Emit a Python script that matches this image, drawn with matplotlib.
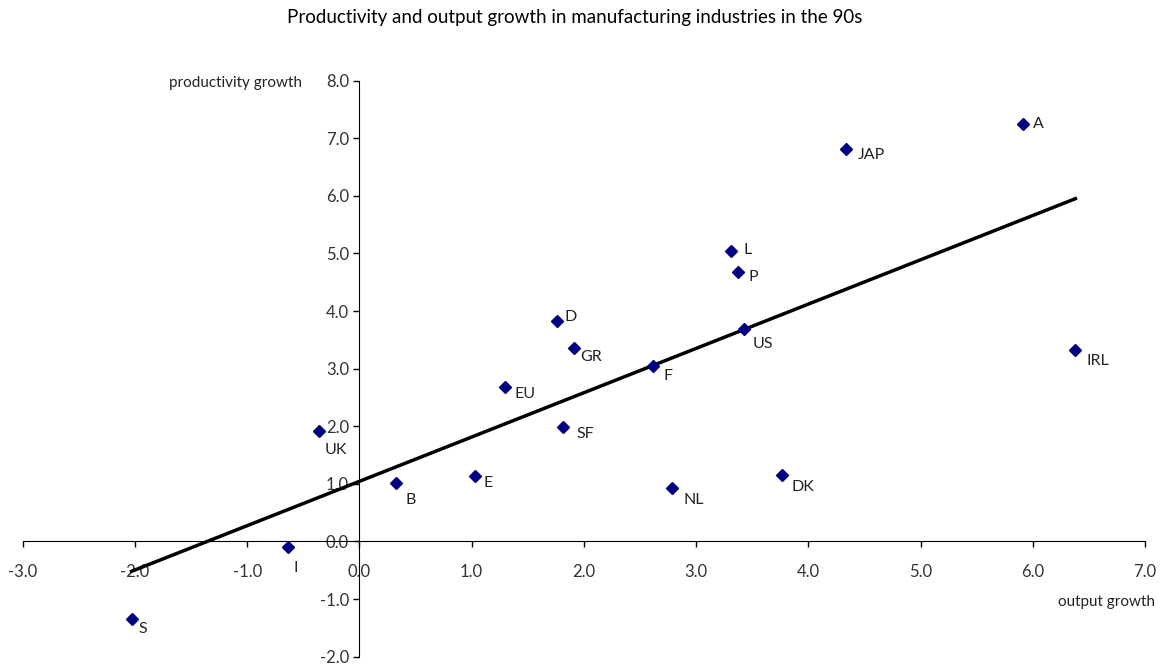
import numpy as np
import matplotlib
matplotlib.use('Agg')
import matplotlib.pyplot as plt

plt.rcParams['font.family'] = ['Lato', 'DejaVu Sans']

# country codes and growth rates (%)
paises = ['A', 'JAP', 'L', 'P', 'US', 'IRL', 'D', 'GR', 'F', 'EU',
          'SF', 'UK', 'B', 'E', 'NL', 'DK', 'I', 'S']
output_growth = [5.91, 4.34, 3.31, 3.37, 3.43, 6.38, 1.76, 1.91, 2.62, 1.30,
                 1.81, -0.36, 0.33, 1.03, 2.79, 3.77, -0.64, -2.03]
productivity_growth = [7.25, 6.82, 5.04, 4.67, 3.69, 3.32, 3.82, 3.36, 3.04, 2.69,
                       1.98, 1.91, 1.01, 1.13, 0.92, 1.15, -0.10, -1.35]

# label offsets in pixels (right, down)
offsets = {'A': (10, 0), 'JAP': (11, 6), 'L': (13, -1), 'P': (11, 5),
           'US': (8, 15), 'IRL': (11, 11), 'D': (8, -4), 'GR': (7, 9),
           'F': (10, 10), 'EU': (9, 7), 'SF': (14, 7), 'UK': (6, 19),
           'B': (9, 17), 'E': (9, 7), 'NL': (11, 12), 'DK': (9, 12),
           'I': (6, 21), 'S': (7, 10)}

x = np.array(output_growth)
y = np.array(productivity_growth)

fig = plt.figure(figsize=(11.68, 6.69), dpi=100)
ax = fig.add_axes([0.0194, 0.0184, 0.9609, 0.861])

# linear trend line over the data range
coef = np.polyfit(x, y, 1)
xs = np.array([x.min(), x.max()])
ax.plot(xs, np.polyval(coef, xs), color='black', lw=2.5, zorder=2)

ax.plot(x, y, linestyle='none', marker='D', markersize=6.3, color='#000080', zorder=3)

for p, xi, yi in zip(paises, x, y):
    dx, dy = offsets[p]
    ax.annotate(p, (xi, yi), xytext=(dx, -dy), textcoords='offset pixels',
                ha='left', va='center', fontsize=11.5, color='#222222')

ax.set_xlim(-3, 7)
ax.set_ylim(-2, 8)
ax.set_xticks(np.arange(-3, 8, 1))
ax.set_yticks(np.arange(-2, 9, 1))
ax.xaxis.set_major_formatter(matplotlib.ticker.FormatStrFormatter('%.1f'))
ax.yaxis.set_major_formatter(matplotlib.ticker.FormatStrFormatter('%.1f'))

ax.spines['left'].set_position(('data', 0))
ax.spines['bottom'].set_position(('data', 0))
ax.spines['top'].set_visible(False)
ax.spines['right'].set_visible(False)
ax.tick_params(axis='x', direction='out', length=4.5, width=1, pad=12,
               labelsize=12, labelcolor='#333333')
ax.tick_params(axis='y', direction='out', length=4.5, width=1, pad=3,
               labelsize=12, labelcolor='#333333')

fig.text(302 / 1168, 1 - 83 / 669, 'productivity growth', ha='right', va='center',
         fontsize=11, color='#222222')
fig.text(1155 / 1168, 1 - 602 / 669, 'output growth', ha='right', va='center',
         fontsize=11, color='#222222')
fig.text(575 / 1168, 1 - 18 / 669,
         'Productivity and output growth in manufacturing industries in the 90s',
         ha='center', va='center', fontsize=13.5, color='black')

plt.savefig('out.png', dpi=100)
